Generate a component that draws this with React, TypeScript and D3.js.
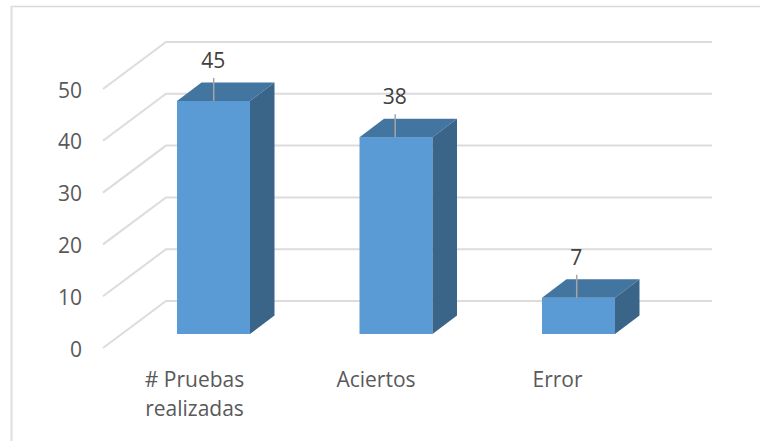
import React from "react";
import * as d3 from "d3";

const categories = [["# Pruebas", "realizadas"], ["Aciertos"], ["Error"]];
const values = [45, 38, 7];
const yTicks = [0, 10, 20, 30, 40, 50];

const FONT = "'Open Sans', 'Noto Sans', sans-serif";
const WIDTH = 760;
const HEIGHT = 441;
// Oblique offset between the front plane and the back wall of the 3D box.
const DX = 24.5;
const DY = -18.5;
const FLOOR_FRONT = 334;

export default function App() {
  const unit = d3.scaleLinear().domain([0, 50]).range([0, 259]);
  const xBar = d3.scalePoint<number>().domain([0, 1, 2]).range([213.5, 578.5]);
  const xLeader = d3.scalePoint<number>().domain([0, 1, 2]).range([213.7, 576.7]);
  const xCategory = d3.scalePoint<number>().domain([0, 1, 2]).range([194.5, 557.5]);
  const barW = 73;
  const wallBack = d3.scaleLinear().domain([0, 50]).range([301, 42]);
  const poly = (pts: [number, number][]) => pts.map((p) => p.join(",")).join(" ");

  return (
    <svg
      width={WIDTH}
      height={HEIGHT}
      viewBox={`0 0 ${WIDTH} ${HEIGHT}`}
      style={{ position: "absolute", left: 0, top: 0, background: "#fff" }}
    >
      {/* Chart frame: only the top and left edges fall inside the view */}
      <line x1={11.5} x2={760} y1={6.5} y2={6.5} stroke="#d9d9d9" strokeWidth={1.3} />
      <line x1={11.5} x2={11.5} y1={6} y2={441} stroke="#dedede" strokeWidth={2} />

      {yTicks.map((t) => {
        const yb = wallBack(t);
        return (
          <g key={t}>
            <polyline
              points={poly([[103, yb + 47], [166, yb], [712, yb]])}
              fill="none"
              stroke="#dcdcdc"
              strokeWidth={2}
            />
            <text
              x={82}
              y={yb + 47 + 8.5}
              textAnchor="end"
              fontFamily={FONT}
              fontSize={21}
              fill="#595959"
            >
              {t}
            </text>
          </g>
        );
      })}

      {values.map((v, i) => {
        const cx = xBar(i)!;
        const lx = xLeader(i)!;
        const x0 = cx - barW / 2;
        const x1 = cx + barW / 2;
        const top = FLOOR_FRONT - unit(v);
        return (
          <g key={i}>
            <rect x={x0} y={top} width={barW} height={FLOOR_FRONT - top} fill="#5b9bd5" />
            <polygon
              points={poly([[x0, top], [x1, top], [x1 + DX, top + DY], [x0 + DX, top + DY]])}
              fill="#4375a1"
            />
            <polygon
              points={poly([[x1, top], [x1 + DX, top + DY], [x1 + DX, FLOOR_FRONT + DY], [x1, FLOOR_FRONT]])}
              fill="#3a6589"
            />
            <line x1={lx} x2={lx} y1={top} y2={top - 23} stroke="#a6a6a6" strokeWidth={1.5} />
            <text
              x={lx - 0.5}
              y={top - 33}
              textAnchor="middle"
              fontFamily={FONT}
              fontSize={21}
              fill="#404040"
            >
              {v}
            </text>
          </g>
        );
      })}

      {categories.map((lines, i) => (
        <text
          key={i}
          y={387}
          textAnchor="middle"
          fontFamily={FONT}
          fontSize={21}
          fill="#595959"
        >
          {lines.map((l, j) => (
            <tspan key={j} x={xCategory(i)!} dy={j === 0 ? 0 : 29}>
              {l}
            </tspan>
          ))}
        </text>
      ))}
    </svg>
  );
}
